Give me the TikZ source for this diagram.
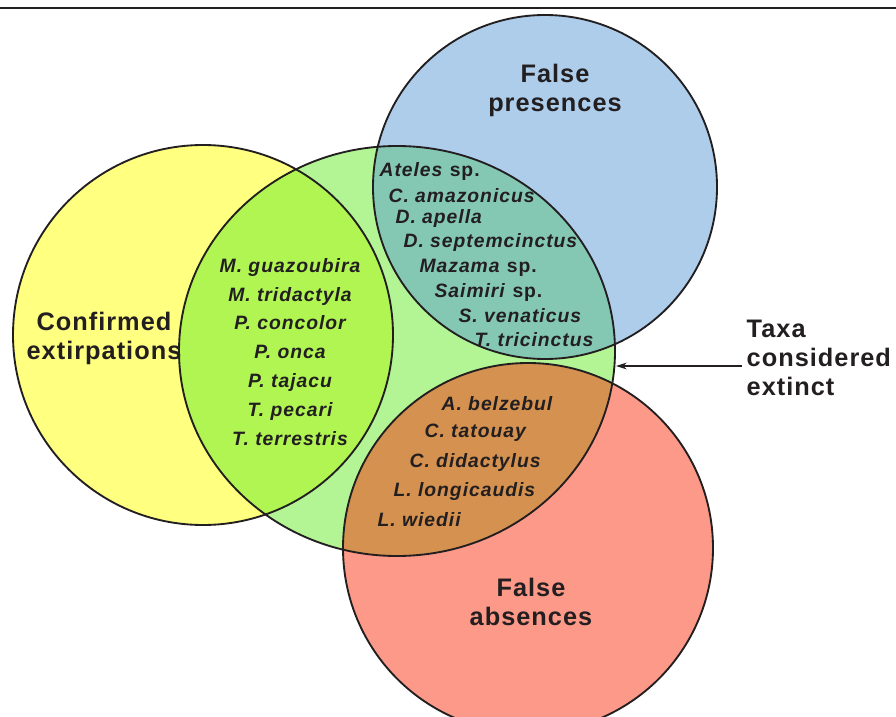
\documentclass[tikz,border=0pt]{standalone}
\usepackage{fontspec}
\setmainfont{Liberation Sans}
\newfontfamily\headfont[LetterSpace=4]{Liberation Sans}
\newfontfamily\spfont[LetterSpace=5]{Liberation Sans}
\usetikzlibrary{arrows.meta, positioning}
\definecolor{yelfill}{HTML}{FFFF80}
\definecolor{grnfill}{HTML}{B3F595}
\definecolor{blufill}{HTML}{ADCDEB}
\definecolor{redfill}{HTML}{FD9988}
\definecolor{ygfill}{HTML}{B0F552}
\definecolor{bgfill}{HTML}{84C8B4}
\definecolor{rgfill}{HTML}{D4914F}
\definecolor{ink}{HTML}{231F20}

\begin{document}
\begin{tikzpicture}[x=0.75pt, y=-0.75pt,
    ring/.style={draw=ink, line width=1.4pt},
    heading/.style={font=\headfont\fontsize{19}{21.8}\selectfont\bfseries, align=center, text=ink},
    sp/.style={font=\spfont\fontsize{14.5}{21.6}\selectfont\bfseries\itshape, text=ink, inner sep=1pt},
    arrow/.style={-{Stealth[length=8pt, width=5pt]}, line width=0.8pt, draw=ink},
]
    \clip (0,0) rectangle (896,717);
    \draw[line width=1.2pt, ink] (0,8) -- (896,8);

    % circle centres
    \coordinate (cy) at (203,335);
    \coordinate (cg) at (397,351);
    \coordinate (cb) at (545,187);
    \coordinate (cr) at (528,548);

    \fill[yelfill] (cy) circle (190);
    \fill[grnfill] (cg) ellipse (218 and 205);
    \fill[blufill] (cb) circle (172);
    \fill[redfill] (cr) circle (185);
    \begin{scope}
        \clip (cg) ellipse (218 and 205);
        \fill[ygfill] (cy) circle (190);
        \fill[bgfill] (cb) circle (172);
        \fill[rgfill] (cr) circle (185);
    \end{scope}
    \draw[ring] (cy) circle (190);
    \draw[ring] (cg) ellipse (218 and 205);
    \draw[ring] (cb) circle (172);
    \draw[ring] (cr) circle (185);

    \node[heading] (fp)   at (555,90)  {False\\presences};
    \node[heading] (ce)   at (104,338) {Confirmed\\extirpations};
    \node[heading] (fa)   at (531,602) {False\\absences};
    \node[heading, align=left, anchor=west] (taxa) at (742,358) {Taxa\\considered\\extinct};

    \node[sp, align=center, font=\spfont\fontsize{14.5}{21.7}\selectfont\bfseries\itshape] (conf) at (290,352)
        {M. guazoubira\\M. tridactyla\\P. concolor\\P. onca\\P. tajacu\\T. pecari\\T. terrestris};

    \foreach \x/\y/\t [count=\i] in {378/172/{Ateles \textup{sp.}}, 387/196/{C. amazonicus},
            394/219/{D. apella}, 402/243/{D. septemcinctus}, 418/268/{Mazama \textup{sp.}},
            433/292/{Saimiri \textup{sp.}}, 457/316/{S. venaticus}, 473/340/{T. tricinctus}}
        \node[sp, anchor=west] (bp\i) at (\x,\y) {\t};

    \foreach \x/\y/\t [count=\i] in {440/404/{A. belzebul}, 423/433/{C. tatouay},
            408/462/{C. didactylus}, 392/491/{L. longicaudis}, 376/520/{L. wiedii}}
        \node[sp, anchor=west] (rg\i) at (\x,\y) {\t};

    \coordinate (hit) at (616,366);
    \draw[arrow] (taxa.west |- hit) -- (hit);
\end{tikzpicture}
\end{document}
